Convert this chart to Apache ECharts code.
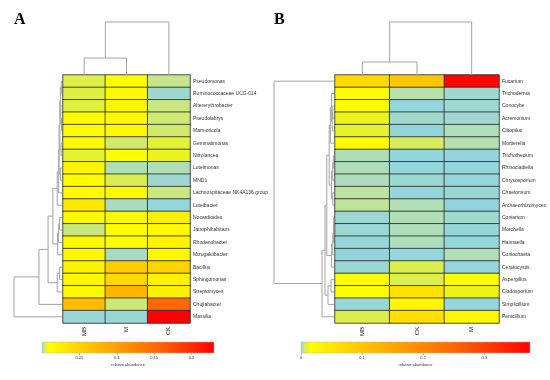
<!DOCTYPE html>
<html><head><meta charset="utf-8">
<script src="https://cdn.jsdelivr.net/npm/echarts@6/dist/echarts.min.js"></script>
<style>html,body{margin:0;padding:0;background:#fff}#c{width:550px;height:380px}</style>
</head><body><div id="c"></div>
<script>
// ---------- Panel A (bacteria) ----------
const colsA = ['MB', 'M', 'CK'];
const rowsA = ['Pseudomonas','Ruminococcaceae UCG-014','Altererythrobacter','Pseudolabrys','Marmoricola',
  'Gemmatimonas','Nitrolancea','Luteimonas','MND1','Lachnospiraceae NK4A136 group','Luteibacter',
  'Nocardioides','Jatrophihabitans','Rhodanobacter','Mizugakiibacter','Bacillus','Sphingomonas',
  'Streptomyces','Chujiabacter','Massilia'];
const valsA_MB = [0.0048,0.005,0.0052,0.014,0.014,0.015,0.0058,0.017,0.015,0.015,0.03,0.016,0.0032,0.016,0.017,0.02,0.018,0.018,0.072,0.0006];
const valsA_M  = [0.014,0.016,0.02,0.016,0.016,0.0038,0.011,0.0018,0.0045,0.016,0.0015,0.016,0.011,0.011,0.0014,0.055,0.045,0.08,0.0035,0.0006];
const valsA_CK = [0.003,0.001,0.0032,0.0036,0.0038,0.0055,0.0065,0.0018,0.0009,0.0032,0.0003,0.024,0.016,0.02,0.016,0.05,0.022,0.024,0.15,0.23];
const maxA = 0.23;
const ticksA = [0.05, 0.1, 0.15, 0.2];
// column tree: [left, right, height]; integers refer to earlier merges
const colTreeA = [['MB','M',0.32],[0,'CK',1]];
const rowTreeA = [
  ['Pseudomonas','Ruminococcaceae UCG-014',0.015],
  ['Pseudolabrys','Marmoricola',0.01],
  ['Altererythrobacter',1,0.025],
  [0,2,0.035],
  ['Gemmatimonas','Nitrolancea',0.02],
  [3,4,0.045],
  ['Luteimonas','MND1',0.03],
  [5,6,0.06],
  [7,'Lachnospiraceae NK4A136 group',0.07],
  [8,'Luteibacter',0.1],
  ['Nocardioides','Jatrophihabitans',0.05],
  [10,'Rhodanobacter',0.07],
  [11,'Mizugakiibacter',0.09],
  [9,12,0.19],
  ['Bacillus','Sphingomonas',0.05],
  [14,'Streptomyces',0.1],
  [13,15,0.29],
  [16,'Chujiabacter',0.48],
  [17,'Massilia',1]
];

// ---------- Panel B (fungi) ----------
const colsB = ['MB', 'CK', 'M'];
const rowsB = ['Fusarium','Trichoderma','Conocybe','Acremonium','Clitopilus','Mortierella','Trichothecium',
  'Rhinocladiella','Chrysosporium','Chaetomium','Archaeorhizomyces','Coniarium','Morchella','Hannaella',
  'Coniochaeta','Ceratocystis','Aspergillus','Cladosporium','Simplicillium','Penicillium'];
const valsB_MB = [0.07,0.022,0.022,0.011,0.0095,0.022,0.0028,0.0028,0.0028,0.004,0.0042,0.0012,0.0012,0.0006,0.0004,0.0012,0.022,0.022,0.001,0.0075];
const valsB_CK = [0.1,0.0035,0.0004,0.0018,0.0004,0.0068,0.0004,0.0005,0.0012,0.0005,0.003,0.003,0.0028,0.0028,0.0005,0.0075,0.0075,0.06,0.03,0.065];
const valsB_M  = [0.37,0.0015,0.0015,0.0015,0.003,0.0032,0.0004,0.0005,0.0005,0.001,0.0004,0.0018,0.0007,0.0005,0.003,0.0006,0.022,0.011,0.0006,0.03];
const maxB = 0.375;
const ticksB = [0, 0.1, 0.2, 0.3];
const colTreeB = [['MB','CK',0.245],[0,'M',1]];
const rowTreeB = [
  ['Conocybe','Acremonium',0.02],
  [0,'Clitopilus',0.03],
  ['Trichoderma',1,0.04],
  [2,'Mortierella',0.06],
  ['Trichothecium','Rhinocladiella',0.01],
  [4,'Chrysosporium',0.02],
  ['Chaetomium','Archaeorhizomyces',0.02],
  [5,6,0.04],
  [3,7,0.08],
  ['Coniarium','Morchella',0.005],
  [9,'Hannaella',0.01],
  [10,'Coniochaeta',0.02],
  [11,'Ceratocystis',0.04],
  [8,12,0.12],
  ['Aspergillus','Cladosporium',0.05],
  [14,'Simplicillium',0.1],
  [13,15,0.15],
  [16,'Penicillium',0.2],
  ['Fusarium',17,1]
];

// ---------- colour ramp ----------
const rampStops = [[0,'#8ed4e0'],[0.006,'#a6dac8'],[0.012,'#c4e492'],[0.02,'#dcee4c'],[0.03,'#eef514'],
  [0.045,'#ffff00'],[0.2,'#ffd700'],[0.43,'#ffa000'],[0.65,'#ff6a00'],[0.85,'#ff3000'],[1,'#ff0000']];
function hex2rgb(h){return [1,3,5].map(i=>parseInt(h.substr(i,2),16));}
function rampAt(f){
  for(let i=1;i<rampStops.length;i++){
    if(f<=rampStops[i][0]){
      const [f0,c0]=rampStops[i-1],[f1,c1]=rampStops[i];
      const t=(f-f0)/(f1-f0), a=hex2rgb(c0), b=hex2rgb(c1);
      return 'rgb('+a.map((v,k)=>Math.round(v+(b[k]-v)*t)).join(',')+')';
    }
  }
  return rampStops[rampStops.length-1][1];
}
const rampColors=[]; for(let i=0;i<=400;i++) rampColors.push(rampAt(i/400));
const gradStops = rampStops.map(s=>({offset:s[0],color:s[1]}));

// ---------- helpers ----------
function heatData(cols, rows, colVals){
  const d=[]; rows.forEach((r,i)=>cols.forEach((c,j)=>d.push([j,i,colVals[j][i]]))); return d;
}
function treeSegments(merges, leaves){
  const pos=[], hgt=[];
  const P=k=>typeof k==='number'?pos[k]:leaves.indexOf(k);
  const H=k=>typeof k==='number'?hgt[k]:0;
  const segs=[];
  merges.forEach((m,i)=>{
    const p1=P(m[0]),p2=P(m[1]);
    segs.push([p1,H(m[0]),p2,H(m[1]),m[2]]);
    pos[i]=(p1+p2)/2; hgt[i]=m[2];
  });
  return segs;
}
function dendroRender(orient){
  return function(params, api){
    const p1=api.value(0),h1=api.value(1),p2=api.value(2),h2=api.value(3),h=api.value(4);
    const pt=(p,hh)=>orient==='left'?api.coord([hh,p]):api.coord([p,hh]);
    return {type:'polyline',shape:{points:[pt(p1,h1),pt(p1,h),pt(p2,h),pt(p2,h2)]},
      style:{stroke:'#a3a3a3',lineWidth:1,fill:null}};
  };
}
function barRender(max){
  return function(params, api){
    const a=api.coord([0,1]), b=api.coord([max,0]);
    return {type:'rect',shape:{x:a[0],y:a[1],width:b[0]-a[0],height:b[1]-a[1]},
      style:{fill:{type:'linear',x:0,y:0,x2:1,y2:0,colorStops:gradStops},stroke:'#bbbbbb',lineWidth:0.5}};
  };
}

const FONT='Liberation Sans';
const hidden=(o)=>Object.assign({show:false},o);

function panel(g0, cfg){
  // g0 = first grid index for this panel
  const grids=[
    {left:cfg.hx, top:75, width:cfg.hw, height:248},
    {left:cfg.dx, top:75, width:cfg.hx-1-cfg.dx, height:248},
    {left:cfg.hx, top:22, width:cfg.hw, height:53},
    {left:cfg.bx, top:342, width:cfg.bw, height:11}
  ];
  const xAxes=[
    {type:'category',gridIndex:g0,data:cfg.cols,position:'bottom',axisLine:{show:false},axisTick:{show:false},
      axisLabel:{rotate:90,fontSize:6,color:'#222',margin:4,fontFamily:FONT}},
    {type:'value',gridIndex:g0+1,min:0,max:1,inverse:true,show:false},
    {type:'value',gridIndex:g0+2,min:-0.5,max:2.5,show:false},
    {type:'value',gridIndex:g0+3,min:0,max:cfg.max,interval:0.05*cfg.tickStep,splitLine:{show:false},
      axisLine:{show:false},axisTick:{show:true,length:2,lineStyle:{color:'#777',width:0.5},
        customValues:cfg.ticks},
      axisLabel:{fontSize:4,color:'#333',margin:3,fontFamily:FONT,customValues:cfg.ticks,
        formatter:v=>cfg.ticks.some(t=>Math.abs(t-v)<1e-9)?String(+v.toFixed(2)):''},
      name:'relative abundance',nameLocation:'middle',nameGap:10,
      nameTextStyle:{fontSize:4,color:'#333',fontFamily:FONT}}
  ];
  const yAxes=[
    {type:'category',gridIndex:g0,data:cfg.rows,inverse:true,position:'right',axisLine:{show:false},
      axisTick:{show:false},axisLabel:{fontSize:5,color:'#333',margin:3,fontFamily:FONT}},
    {type:'value',gridIndex:g0+1,min:-0.5,max:19.5,inverse:true,show:false},
    {type:'value',gridIndex:g0+2,min:0,max:1,show:false},
    {type:'value',gridIndex:g0+3,min:0,max:1,show:false}
  ];
  const series=[
    {type:'heatmap',xAxisIndex:g0,yAxisIndex:g0,data:heatData(cfg.cols,cfg.rows,cfg.vals),
      itemStyle:{borderColor:'#262626',borderWidth:0.8},emphasis:{disabled:true}},
    {type:'custom',xAxisIndex:g0+1,yAxisIndex:g0+1,data:treeSegments(cfg.rowTree,cfg.rows),
      renderItem:dendroRender('left'),silent:true},
    {type:'custom',xAxisIndex:g0+2,yAxisIndex:g0+2,data:treeSegments(cfg.colTree,cfg.cols),
      renderItem:dendroRender('top'),silent:true},
    {type:'custom',xAxisIndex:g0+3,yAxisIndex:g0+3,data:[[0]],renderItem:barRender(cfg.max),silent:true}
  ];
  return {grids,xAxes,yAxes,series};
}

const pA=panel(0,{hx:63,hw:127,dx:14,bx:42,bw:172,max:maxA,ticks:ticksA,tickStep:1,
  cols:colsA,rows:rowsA,vals:[valsA_MB,valsA_M,valsA_CK],rowTree:rowTreeA,colTree:colTreeA});
const pB=panel(4,{hx:335,hw:164,dx:274,bx:301,bw:229,max:maxB,ticks:ticksB,tickStep:2,
  cols:colsB,rows:rowsB,vals:[valsB_MB,valsB_CK,valsB_M],rowTree:rowTreeB,colTree:colTreeB});

const chart=echarts.init(document.getElementById('c'),null,{renderer:'canvas'});
chart.setOption({
  animation:false,
  backgroundColor:'#fff',
  title:[
    {text:'A',left:14,top:12,padding:0,textStyle:{fontFamily:'Liberation Serif',fontWeight:'bold',fontSize:16,color:'#000'}},
    {text:'B',left:274,top:12,padding:0,textStyle:{fontFamily:'Liberation Serif',fontWeight:'bold',fontSize:16,color:'#000'}}
  ],
  grid:[...pA.grids,...pB.grids],
  xAxis:[...pA.xAxes,...pB.xAxes],
  yAxis:[...pA.yAxes,...pB.yAxes],
  visualMap:[
    {show:false,seriesIndex:0,min:0,max:maxA,dimension:2,inRange:{color:rampColors}},
    {show:false,seriesIndex:4,min:0,max:maxB,dimension:2,inRange:{color:rampColors}}
  ],
  series:[...pA.series,...pB.series]
});
</script></body></html>
